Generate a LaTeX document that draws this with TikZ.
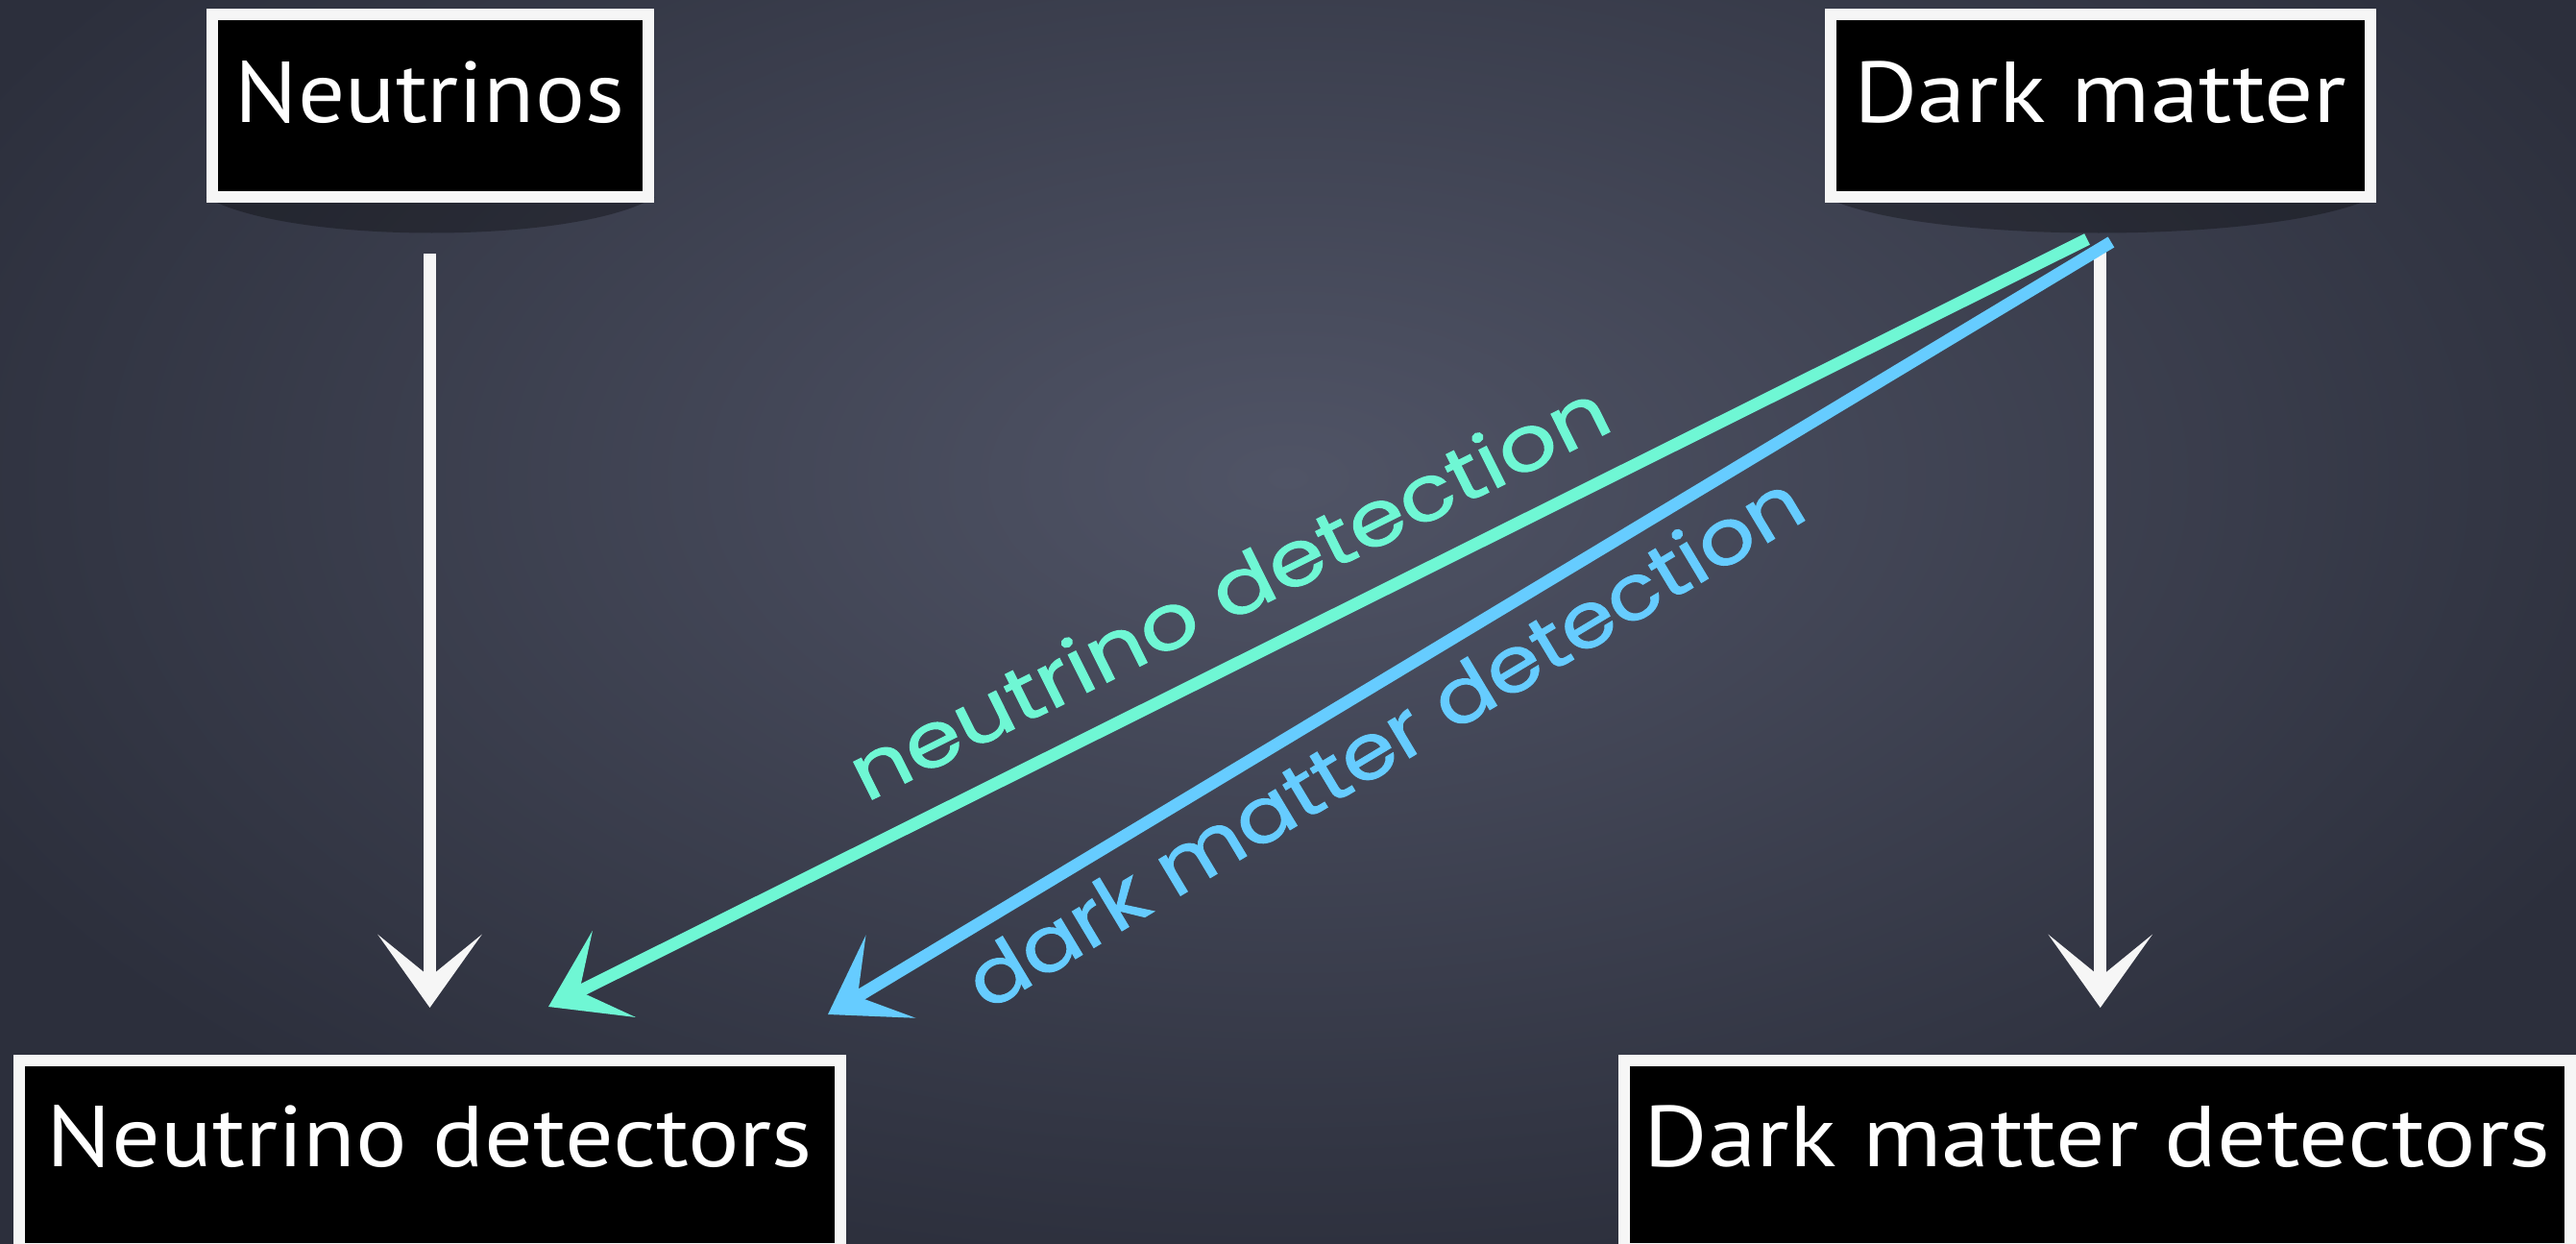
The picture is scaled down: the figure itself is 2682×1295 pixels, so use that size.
\documentclass[tikz,border=0pt]{standalone}
\usepackage{fontspec}
\setmainfont{PT Sans}
\newfontfamily\chalkfont[FakeBold=1.2]{Poppins}
\usepackage{graphicx}
\usetikzlibrary{arrows.meta}
\definecolor{board}{RGB}{44,47,60}
\definecolor{boardlight}{RGB}{80,84,102}
\definecolor{chalkgreen}{RGB}{111,247,212}
\definecolor{chalkblue}{RGB}{102,204,255}
\definecolor{chalkwhite}{RGB}{246,246,246}
\begin{document}
\begin{tikzpicture}[x=0.25pt,y=-0.25pt,
  card/.style={fill=black, draw=chalkwhite, line width=3pt, inner xsep=0pt, inner ysep=0pt,
    text=white, font=\fontsize{22.5}{22.5}\selectfont},
  topcard/.style={card, text height=28.375pt, text depth=19.125pt},
  botcard/.style={card, text height=27.5pt, text depth=21.5pt},
  chalkarrow/.style={line width=3.3pt, -{Stealth[length=19pt,width=27pt,inset=11pt]}},
  colarrow/.style={line width=3.2pt, -{Stealth[length=19pt,width=25pt,inset=10pt]}},
  chalklabel/.style={inner sep=0pt, anchor=base, font=\chalkfont\fontsize{20}{20}\selectfont}
]
\useasboundingbox (0,0) rectangle (2682,1295);
\fill[board] (0,0) rectangle (2682,1295);
\begin{scope}
\clip (0,0) rectangle (2682,1295);
\shade[inner color=boardlight, outer color=board] (-200,-350) rectangle (2882,1345);
\end{scope}

% soft shadows under the top cards
\fill[black, opacity=0.3] (214,205) .. controls (300,255) and (600,255) .. (682,205) -- cycle;
\fill[black, opacity=0.3] (1900,205) .. controls (2000,255) and (2370,255) .. (2472,205) -- cycle;

% cards
\node[topcard, minimum width=113.5pt] (nu) at (447.5,109.5) {\resizebox{101.25pt}{\height}{Neutrinos}};
\node[topcard, minimum width=140.4pt] (dm) at (2186.75,109.5) {\resizebox{128.25pt}{\height}{Dark matter}};
\node[botcard, minimum width=213.75pt] (nd) at (447.5,1202) {\resizebox{199.25pt}{\height}{Neutrino detectors}};
\node[botcard, minimum width=246.25pt] (dd) at (2183.5,1202) {\resizebox{236pt}{\height}{Dark matter detectors}};

% white arrows
\draw[chalkarrow, chalkwhite, shorten <=13.4pt, shorten >=12.25pt] (nu.south) -- (nu.south |- nd.north);
\draw[chalkarrow, chalkwhite, shorten <=11.9pt, shorten >=12.25pt] (dm.south) -- (dm.south |- dd.north);

% coloured arrows
\coordinate (gs) at (2173,249);
\coordinate (gt) at (571,1048);
\coordinate (bs) at (2198,252);
\coordinate (bt) at (862,1056);
\draw[colarrow, chalkgreen] (gs) -- (gt);
\draw[colarrow, chalkblue] (bs) -- (bt);

% labels
\node[chalklabel, text=chalkgreen, rotate=26.5] (lg) at (1292,641) {\resizebox{218pt}{\height}{neutrino detection}};
\node[chalklabel, text=chalkblue, rotate=31] (lb) at (1456,796) {\resizebox{250pt}{\height}{dark matter detection}};
\end{tikzpicture}
\end{document}
